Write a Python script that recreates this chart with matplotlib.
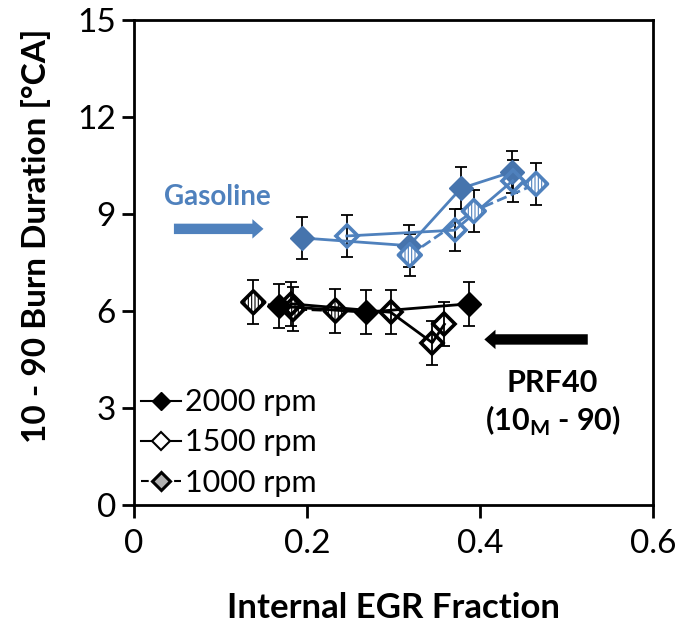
import matplotlib
matplotlib.use("Agg")
import matplotlib.pyplot as plt
import numpy as np

plt.rcParams['font.family'] = ['Lato', 'DejaVu Sans']
plt.rcParams['hatch.linewidth'] = 0.8

# Gasoline (blue)
gas_2000_x = [0.194, 0.318, 0.378, 0.437]
gas_2000_y = [8.26, 8.02, 9.79, 10.30]
gas_2000_err = [0.65, 0.65, 0.65, 0.65]

gas_1500_x = [0.246, 0.371, 0.438]
gas_1500_y = [8.32, 8.50, 10.03]
gas_1500_err = [0.65, 0.65, 0.65]

gas_1000_x = [0.319, 0.393, 0.465]
gas_1000_y = [7.73, 9.09, 9.93]
gas_1000_err = [0.65, 0.65, 0.65]

# PRF40 (black)
prf_2000_x = [0.168, 0.268, 0.387]
prf_2000_y = [6.15, 5.96, 6.22]
prf_2000_err = [0.68, 0.68, 0.68]

prf_1500_x = [0.182, 0.297, 0.345, 0.359]
prf_1500_y = [6.22, 5.96, 5.02, 5.59]
prf_1500_err = [0.68, 0.68, 0.68, 0.68]

prf_1000_x = [0.138, 0.184, 0.233]
prf_1000_y = [6.27, 6.06, 6.01]
prf_1000_err = [0.68, 0.68, 0.68]

legend_labels = ["2000 rpm", "1500 rpm", "1000 rpm"]
x_ticks = [0, 0.2, 0.4, 0.6]
x_tick_labels = ["0", "0.2", "0.4", "0.6"]
y_ticks = [0, 3, 6, 9, 12, 15]

BLUE_LINE = "#4f81bd"
BLUE_FILL = "#4674ad"
BLUE_HATCH = "#7fa3d6"

fig = plt.figure(figsize=(6.8, 6.27), dpi=100)
ax = fig.add_axes([0.197, 0.1946, 0.763, 0.7735])

MS = 12.5
MEW = 2.6


def errbars(x, y, e):
    ax.errorbar(x, y, yerr=e, fmt='none', ecolor='black', elinewidth=1.3,
                capsize=4, capthick=1.3, zorder=2)


def hatched(x, y, edge, hatch_col, zorder):
    plt.rcParams['hatch.color'] = hatch_col
    ax.scatter(x, y, marker='D', s=(MS * 0.93) ** 2, facecolor='white',
               edgecolor=edge, linewidths=MEW, hatch='|||||', zorder=zorder)


# Gasoline series
errbars(gas_2000_x, gas_2000_y, gas_2000_err)
errbars(gas_1500_x, gas_1500_y, gas_1500_err)
errbars(gas_1000_x, gas_1000_y, gas_1000_err)
ax.plot(gas_2000_x, gas_2000_y, '-', color=BLUE_LINE, lw=2, marker='D', ms=MS,
        mfc=BLUE_FILL, mec=BLUE_FILL, zorder=4)
ax.plot(gas_1500_x, gas_1500_y, '-', color=BLUE_LINE, lw=2, marker='D', ms=MS * 0.93,
        mfc='none', mec=BLUE_LINE, mew=MEW, zorder=4)
ax.plot(gas_1000_x, gas_1000_y, '--', color=BLUE_LINE, lw=2, zorder=3)
hatched(gas_1000_x, gas_1000_y, BLUE_LINE, BLUE_HATCH, 4)

# PRF40 series
errbars(prf_2000_x, prf_2000_y, prf_2000_err)
errbars(prf_1500_x, prf_1500_y, prf_1500_err)
errbars(prf_1000_x, prf_1000_y, prf_1000_err)
ax.plot(prf_1000_x, prf_1000_y, '--', color='black', lw=2, zorder=3)
hatched(prf_1000_x, prf_1000_y, 'black', '#666666', 4)
ax.plot(prf_2000_x, prf_2000_y, '-', color='black', lw=2, marker='D', ms=MS,
        mfc='black', mec='black', zorder=4)
ax.plot(prf_1500_x, prf_1500_y, '-', color='black', lw=2, marker='D', ms=MS * 0.93,
        mfc='none', mec='black', mew=MEW, zorder=4)

# Legend proxies
h1, = ax.plot([], [], '-', color='black', lw=1.5, marker='D', ms=9, mfc='black', mec='black')
h2, = ax.plot([], [], '-', color='black', lw=1.5, marker='D', ms=9, mfc='white', mec='black', mew=1.5)
h3, = ax.plot([], [], '--', color='black', lw=1.5, marker='D', ms=9, mfc='#b0b0b0', mec='black', mew=2.2)
ax.legend([h1, h2, h3], legend_labels, loc='lower left', bbox_to_anchor=(-0.01, -0.008),
          frameon=False, fontsize=22, handlelength=1.3, handletextpad=0.15,
          labelspacing=0.4, borderaxespad=0.2, borderpad=0.2)

# Annotations
ax.text(0.097, 9.53, "Gasoline", color=BLUE_LINE, fontsize=20, fontweight='bold',
        ha='center', va='center')
ax.annotate('', xy=(0.153, 8.54), xytext=(0.043, 8.54),
            arrowprops=dict(arrowstyle='simple,head_length=0.8,head_width=1.4,tail_width=0.75',
                            color=BLUE_LINE, lw=0))
ax.annotate('', xy=(0.402, 5.12), xytext=(0.528, 5.12),
            arrowprops=dict(arrowstyle='simple,head_length=0.8,head_width=1.4,tail_width=0.75',
                            color='black', lw=0))
ax.text(0.484, 3.76, "PRF40", color='black', fontsize=22, fontweight='bold',
        ha='center', va='center')
ax.text(0.484, 2.6, r"(10$_\mathregular{M}$ - 90)", color='black', fontsize=22,
        fontweight='bold', ha='center', va='center')

ax.set_xlim(0, 0.6)
ax.set_ylim(0, 15)
ax.set_xticks(x_ticks)
ax.set_xticklabels(x_tick_labels)
ax.set_yticks(y_ticks)
ax.tick_params(axis='both', direction='out', length=9, width=2, labelsize=24, pad=4)
ax.tick_params(axis='x', pad=8)
for s in ax.spines.values():
    s.set_linewidth(2)
ax.set_xlabel("Internal EGR Fraction", fontsize=25, fontweight='bold', labelpad=24)
ax.set_ylabel("10 - 90 Burn Duration [°CA]", fontsize=24, fontweight='bold')
ax.yaxis.set_label_coords(-0.16, 0.555)

fig.savefig("out.png", dpi=100)
